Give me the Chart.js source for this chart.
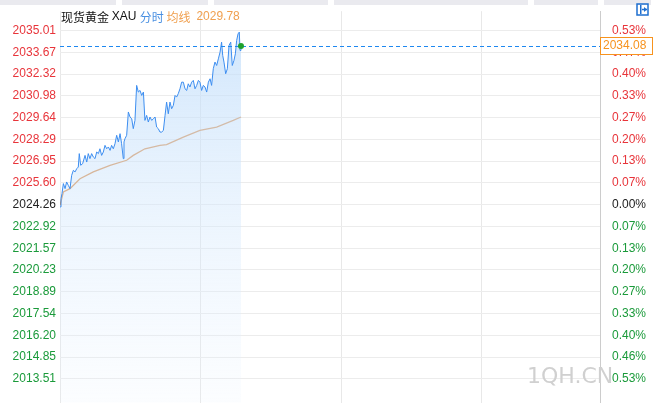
<!DOCTYPE html><html><head><meta charset="utf-8">
<script src="https://cdn.jsdelivr.net/npm/chart.js@4"></script>
<style>html,body{margin:0;padding:0;background:#fff}#w{width:653px;height:414px;position:relative}</style></head><body>
<div id="w"><canvas id="c" width="653" height="414"></canvas></div>
<script>
const minutes=[0,0.7,1.4,2.4,3.6,4.7,5.9,7.1,8.3,9.5,10.7,11.9,13,13.7,14.7,16.1,17.8,19,20.1,21.3,22.5,23.7,24.9,26.1,27.3,28.4,29.6,30.8,32,33.2,34.4,35.6,36.7,37.9,39.1,40.3,41.5,42.7,43.8,45,45.5,46.2,47.4,48.6,49.8,51,52.1,53.3,54.5,55.7,56.9,58.1,59.3,60.4,61.6,62.8,64,65.2,66.4,67.6,68.7,69.9,71.1,72.3,73.5,74.7,75.8,77,78.2,79.4,80.6,81.8,82.9,84.1,85.3,86.5,87.7,88.9,90.1,91.2,92.4,93.6,94.8,96,97.2,98.4,99.5,100.7,101.9,103.1,104.3,105.5,106.7,107.8,109,110.2,111.4,112.6,113.8,114.9,115.7,116.6,117.8,119,120.2,121.4,122.5,123.7,124.7,125.6,126.6,127.5,128,128.7];
const prices=[2024.12,2024.63,2024.94,2025.56,2025.25,2025.66,2025.45,2025.25,2026.07,2026.38,2026.28,2026.48,2026.58,2027.41,2026.69,2026.79,2027.30,2026.89,2027.41,2027.10,2027.41,2027.20,2027.10,2027.51,2027.41,2027.71,2027.30,2027.51,2027.92,2027.71,2027.82,2027.61,2027.92,2027.71,2028.02,2028.54,2028.13,2028.64,2028.02,2027.10,2028.13,2028.33,2028.54,2029.98,2029.67,2029.56,2028.95,2029.46,2031.62,2031.21,2031.31,2031.00,2031.21,2029.46,2029.77,2029.36,2029.67,2029.46,2029.56,2029.67,2029.05,2028.95,2028.74,2028.74,2028.84,2029.77,2030.59,2029.87,2030.59,2030.18,2030.39,2031.00,2030.90,2031.11,2031.41,2031.82,2031.82,2031.41,2031.31,2031.72,2031.52,2031.82,2031.93,2031.41,2031.62,2031.93,2031.82,2031.31,2031.62,2031.52,2031.21,2031.82,2032.03,2031.62,2032.65,2033.06,2032.85,2033.26,2033.67,2034.29,2033.47,2033.06,2032.34,2032.65,2034.09,2034.29,2032.85,2033.16,2033.57,2034.39,2034.80,2034.91,2033.78,2034.08];
const avgMinutes=[0,2.4,7.1,14.2,23.7,35.6,47.4,52.1,60.4,71.1,75.8,87.7,99.5,111.4,123.2,128.7];
const avgPrices=[2024.22,2025.04,2025.25,2025.86,2026.28,2026.69,2027.00,2027.30,2027.71,2027.92,2027.96,2028.43,2028.84,2029.05,2029.46,2029.67];
const leftTicks=[2035.01,2033.67,2032.32,2030.98,2029.64,2028.29,2026.95,2025.60,2024.26,2022.92,2021.57,2020.23,2018.89,2017.54,2016.20,2014.85,2013.51];
const rightTicks=['0.53%','0.47%','0.40%','0.33%','0.27%','0.20%','0.13%','0.07%','0.00%','0.07%','0.13%','0.20%','0.27%','0.33%','0.40%','0.46%','0.53%'];
const base=2024.26, avgLabel='2029.78';
const col=v=>v>base+0.01?'#e8343a':(v<base-0.01?'#1a9a3a':'#222');
const F='"Liberation Sans",Arial,sans-serif';
const ctx=document.getElementById('c');
const overlay={id:'ov',afterDraw(ch){const c=ch.ctx,y=ch.scales.y,a=ch.chartArea;const last=prices[prices.length-1];const py=Math.round(y.getPixelForValue(last));const px=ch.scales.x.getPixelForValue(minutes[minutes.length-1]);
c.save();c.textBaseline='middle';let x=61;
const seg=[['现货黄金 ','#111','"Noto Sans CJK SC"'],['XAU ','#111',F],['分时 ','#4a90e2','"Noto Sans CJK SC"'],['均线 ','#f0a050','"Noto Sans CJK SC"'],[' '+avgLabel,'#f0a050',F]];
for(const [t,cl,f] of seg){c.font='12px '+f;c.fillStyle=cl;c.fillText(t,x,17);x+=c.measureText(t).width;}
c.setLineDash([4,3]);c.strokeStyle='#1e88f0';c.lineWidth=1;c.beginPath();c.moveTo(a.left,py+0.5);c.lineTo(a.right,py+0.5);c.stroke();c.setLineDash([]);
c.fillStyle='#fff';c.fillRect(a.right,py-9,53,18);c.strokeStyle='#f7931e';c.strokeRect(a.right+0.5,py-8.5,52,17);c.fillStyle='#f7931e';c.font='12px '+F;c.textAlign='left';c.fillText(last.toFixed(2),a.right+3,py);
c.fillStyle='#1fa12e';c.beginPath();c.arc(px,py,3,0,Math.PI*2);c.fill();
c.fillStyle='#d0d0d0';c.font='22px "DejaVu Sans",sans-serif';c.fillText('1QH.CN',527,377);
c.fillStyle='#eaeaef';[[0,118],[122,210],[214,330],[334,530],[534,600],[604,653]].forEach(r=>c.fillRect(r[0],0,r[1]-r[0]-2,5));
c.strokeStyle='#1e6fd0';c.lineWidth=1.5;c.strokeRect(637,4,11,11);c.fillStyle='#1e6fd0';c.fillRect(640,5,1.5,9);c.beginPath();c.moveTo(642,9.5);c.lineTo(647,9.5);c.stroke();c.beginPath();c.moveTo(644,7);c.lineTo(647,9.5);c.lineTo(644,12);c.fill();
c.restore();}};
new Chart(ctx,{type:'line',data:{datasets:[
{data:minutes.map((m,i)=>({x:m,y:prices[i]})),borderColor:'#3d8ef0',borderWidth:1,pointRadius:0,fill:'start',tension:0,
 backgroundColor:(cx)=>{const ch=cx.chart;if(!ch.chartArea)return 'rgba(200,225,250,0.5)';const g=ch.ctx.createLinearGradient(0,ch.chartArea.top,0,ch.chartArea.bottom);g.addColorStop(0,'rgba(190,220,250,0.75)');g.addColorStop(1,'rgba(230,242,255,0.15)');return g;}},
{data:avgMinutes.map((m,i)=>({x:m,y:avgPrices[i]})),borderColor:'#e0883a',borderWidth:1.3,pointRadius:0,fill:false,tension:0}]},
options:{responsive:false,animation:false,devicePixelRatio:1,layout:{padding:0},plugins:{legend:{display:false},tooltip:{enabled:false}},
scales:{x:{type:'linear',min:0,max:384,afterFit:s=>{s.height=0;},ticks:{display:false,stepSize:100},grid:{color:'#e8e8e8',drawTicks:false},border:{display:false}},
y:{position:'left',min:2012.03,max:2036.20,afterBuildTicks:s=>{s.ticks=leftTicks.map(v=>({value:v}));},afterFit:s=>{s.width=60;},
 ticks:{padding:4,color:c=>col(c.tick.value),font:{size:12,family:F},callback:v=>v.toFixed(2)},grid:{color:'#ececec',drawTicks:false},border:{display:false}},
y2:{position:'right',min:2012.03,max:2036.20,afterBuildTicks:s=>{s.ticks=leftTicks.map(v=>({value:v}));},afterFit:s=>{s.width=53;},
 ticks:{padding:4,color:c=>col(c.tick.value),font:{size:12,family:F},callback:(v,i)=>rightTicks[i]},grid:{display:false},border:{display:true,color:'#ccc',dash:[1,2]}}}},
plugins:[overlay]});
</script></body></html>
